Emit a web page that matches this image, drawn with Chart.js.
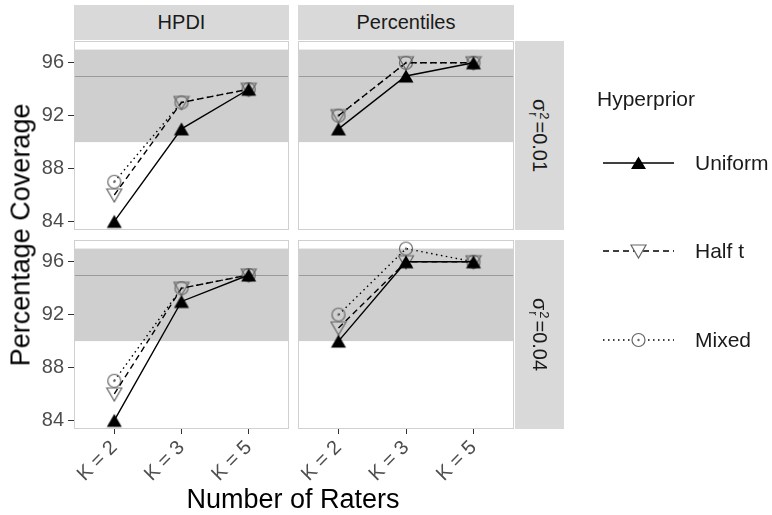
<!DOCTYPE html>
<html>
<head>
<meta charset="utf-8">
<script src="https://cdn.jsdelivr.net/npm/chart.js@4"></script>
<style>
  body { margin: 0; background: #fff; font-family: "Liberation Sans", Arial, sans-serif; }
  #wrap { position: relative; width: 772px; height: 515px; overflow: hidden; }
  #wrap canvas { position: absolute; left: 0; top: 0; pointer-events: none; }
  .strip { position: absolute; background: #d9d9d9; color: #1a1a1a; font-size: 20px;
           display: flex; align-items: center; justify-content: center; }
  .rot { transform: rotate(90deg); white-space: nowrap; display: flex; align-items: center; }
  .ss { display: inline-flex; flex-direction: column; font-size: 13px; line-height: 11px; margin: 0 2px 0 1px; }
  .title { position: absolute; font-size: 27px; color: #000; white-space: nowrap; }
  .leg { position: absolute; font-size: 21px; color: #1a1a1a; white-space: nowrap; transform: translateY(-50%); }
  svg.key { position: absolute; }
</style>
</head>
<body>
<div id="wrap">
  <canvas id="c1" width="772" height="515"></canvas>
  <canvas id="c2" width="772" height="515"></canvas>
  <canvas id="c3" width="772" height="515"></canvas>
  <canvas id="c4" width="772" height="515"></canvas>

  <div class="strip" style="left:74px;top:5px;width:215px;height:35px;">HPDI</div>
  <div class="strip" style="left:298px;top:5px;width:216px;height:35px;">Percentiles</div>
  <div class="strip" style="left:515px;top:41px;width:49px;height:189px;">
    <div class="rot">σ<span class="ss"><span>2</span><span>r</span></span>=0.01</div>
  </div>
  <div class="strip" style="left:515px;top:240px;width:49px;height:189px;">
    <div class="rot">σ<span class="ss"><span>2</span><span>r</span></span>=0.04</div>
  </div>

  <div class="title" style="left:21px;top:235px;transform:translate(-50%,-50%) rotate(-90deg);">Percentage Coverage</div>
  <div class="title" style="left:293px;top:499px;transform:translate(-50%,-50%);">Number of Raters</div>

  <div class="leg" style="left:597px;top:99px;">Hyperprior</div>
  <svg class="key" style="left:600px;top:148px;" width="78" height="30">
    <line x1="3" y1="15" x2="74" y2="15" stroke="#000" stroke-width="1.4"/>
    <polygon points="38.5,8.5 46,21 31,21" fill="#000"/>
  </svg>
  <div class="leg" style="left:695px;top:163px;">Uniform</div>
  <svg class="key" style="left:600px;top:236px;" width="78" height="30">
    <line x1="3" y1="15" x2="74" y2="15" stroke="#000" stroke-width="1.4" stroke-dasharray="6,4"/>
    <polygon points="31,9 46,9 38.5,22" fill="#fff" stroke="#666" stroke-width="1.2"/>
  </svg>
  <div class="leg" style="left:695px;top:251px;">Half t</div>
  <svg class="key" style="left:600px;top:325px;" width="78" height="30">
    <line x1="3" y1="15" x2="74" y2="15" stroke="#000" stroke-width="1.4" stroke-dasharray="1.5,3.5"/>
    <circle cx="38.5" cy="15" r="6.5" fill="#fff" stroke="#666" stroke-width="1.2"/>
    <circle cx="38.5" cy="15" r="1.2" fill="#666"/>
  </svg>
  <div class="leg" style="left:695px;top:340px;">Mixed</div>
</div>

<script>
// categories and tick values
const categories = ["K = 2", "K = 3", "K = 5"];
const yTickValues = [84, 88, 92, 96];
const bandLow = 90, bandHigh = 97, targetLine = 95;

// series values, one array per panel and hyperprior
const hpdi001Uniform = [84, 91, 94];
const hpdi001HalfT   = [86, 93, 94];
const hpdi001Mixed   = [87, 93, 94];
const pct001Uniform  = [91, 95, 96];
const pct001HalfT    = [92, 96, 96];
const pct001Mixed    = [92, 96, 96];
const hpdi004Uniform = [84, 93, 95];
const hpdi004HalfT   = [86, 94, 95];
const hpdi004Mixed   = [87, 94, 95];
const pct004Uniform  = [90, 96, 96];
const pct004HalfT    = [91, 96, 96];
const pct004Mixed    = [92, 97, 96];

const W = 772, H = 515;
const FONT = "'Liberation Sans', Arial, sans-serif";

// y range like ggplot: data range plus 5% each side
const yLo = Math.min(...yTickValues), yHi = bandHigh;
const yPad = (yHi - yLo) * 0.05;

function marker(kind) {
  const c = document.createElement("canvas");
  c.width = 18; c.height = 18;
  const g = c.getContext("2d");
  g.lineWidth = 1.2;
  if (kind === "up") {
    g.beginPath(); g.moveTo(9, 2.5); g.lineTo(16.5, 15.5); g.lineTo(1.5, 15.5); g.closePath();
    g.fillStyle = "#000"; g.fill();
  } else if (kind === "down") {
    g.beginPath(); g.moveTo(1.5, 3); g.lineTo(16.5, 3); g.lineTo(9, 16); g.closePath();
    g.strokeStyle = "#666"; g.stroke();
  } else {
    g.beginPath(); g.arc(9, 9, 6.5, 0, Math.PI * 2);
    g.strokeStyle = "#666"; g.stroke();
    g.beginPath(); g.arc(9, 9, 1.2, 0, Math.PI * 2);
    g.fillStyle = "#666"; g.fill();
  }
  return c;
}
const triUp = marker("up"), triDown = marker("down"), circDot = marker("circle");

const pts = vals => vals.map((v, i) => ({ x: i + 1, y: v }));

// band, reference line and panel border
const panelDeco = {
  id: "panelDeco",
  beforeDatasetsDraw(chart) {
    const { ctx, chartArea: a, scales } = chart;
    const y = scales.y;
    ctx.save();
    ctx.fillStyle = "#cfcfcf";
    const t = y.getPixelForValue(bandHigh), b = y.getPixelForValue(bandLow);
    ctx.fillRect(a.left, t, a.right - a.left, b - t);
    ctx.strokeStyle = "#9a9a9a";
    ctx.lineWidth = 1;
    const ly = Math.round(y.getPixelForValue(targetLine)) + 0.5;
    ctx.beginPath(); ctx.moveTo(a.left, ly); ctx.lineTo(a.right, ly); ctx.stroke();
    ctx.strokeStyle = "#d0d0d0";
    ctx.strokeRect(a.left + 0.5, a.top + 0.5, a.right - a.left - 1, a.bottom - a.top - 1);
    ctx.restore();
  }
};

const panels = [
  { id: "c1", left: 74,  top: 41,  right: 289, bottom: 230, showX: false, showY: true,  s: [hpdi001Uniform, hpdi001HalfT, hpdi001Mixed] },
  { id: "c2", left: 298, top: 41,  right: 514, bottom: 230, showX: false, showY: false, s: [pct001Uniform, pct001HalfT, pct001Mixed] },
  { id: "c3", left: 74,  top: 240, right: 289, bottom: 429, showX: true,  showY: true,  s: [hpdi004Uniform, hpdi004HalfT, hpdi004Mixed] },
  { id: "c4", left: 298, top: 240, right: 514, bottom: 429, showX: true,  showY: false, s: [pct004Uniform, pct004HalfT, pct004Mixed] }
];

panels.forEach(p => {
  new Chart(document.getElementById(p.id), {
    type: "line",
    data: {
      datasets: [
        { label: "Uniform", data: pts(p.s[0]), borderColor: "#000", borderWidth: 1.4,
          pointStyle: triUp, pointRadius: 8 },
        { label: "Half t", data: pts(p.s[1]), borderColor: "#000", borderWidth: 1.4, borderDash: [6, 4],
          pointStyle: triDown, pointRadius: 8 },
        { label: "Mixed", data: pts(p.s[2]), borderColor: "#000", borderWidth: 1.4, borderDash: [1.5, 3.5],
          pointStyle: circDot, pointRadius: 8 }
      ]
    },
    options: {
      responsive: false,
      animation: false,
      events: [],
      layout: {
        padding: {
          left: p.showY ? 0 : p.left,
          top: p.top,
          right: W - p.right,
          bottom: p.showX ? 0 : H - p.bottom
        }
      },
      plugins: { legend: { display: false }, tooltip: { enabled: false } },
      scales: {
        x: {
          type: "linear",
          display: p.showX,
          min: 0.4, max: categories.length + 0.6,
          afterBuildTicks: s => { s.ticks = categories.map((c, i) => ({ value: i + 1 })); },
          afterFit: s => { s.height = p.showX ? H - p.bottom : 0; },
          ticks: {
            autoSkip: false, minRotation: 45, maxRotation: 45, padding: 2,
            color: "#4d4d4d", font: { family: FONT, size: 20 },
            callback: v => categories[v - 1]
          },
          grid: { drawOnChartArea: false, drawTicks: true, tickLength: 5, tickColor: "#333" },
          border: { display: false }
        },
        y: {
          display: p.showY,
          min: yLo - yPad, max: yHi + yPad,
          afterBuildTicks: s => { s.ticks = yTickValues.map(v => ({ value: v })); },
          afterFit: s => { s.width = p.showY ? p.left : 0; },
          ticks: { padding: 4, color: "#4d4d4d", font: { family: FONT, size: 20 } },
          grid: { drawOnChartArea: false, drawTicks: true, tickLength: 6, tickColor: "#333" },
          border: { display: false }
        }
      }
    },
    plugins: [panelDeco]
  });
});
</script>
</body>
</html>
